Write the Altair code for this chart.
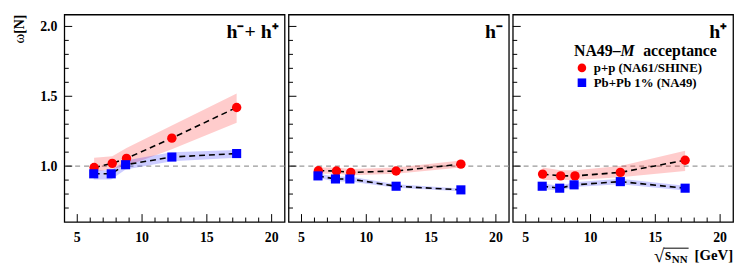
import altair as alt
import pandas as pd

# ---------------- data ----------------
energy_pp = [6.3, 7.7, 8.8, 12.3, 17.3]
energy_pb = [6.27, 7.62, 8.73, 12.3, 17.3]

# h- + h+
all_pp = [0.99, 1.02, 1.055, 1.20, 1.42]
all_pp_lo = [0.96, 0.98, 1.00, 1.12, 1.31]
all_pp_hi = [1.06, 1.07, 1.13, 1.29, 1.52]
all_pb = [0.945, 0.945, 1.01, 1.065, 1.09]
all_pb_lo = [0.905, 0.905, 0.975, 1.035, 1.06]
all_pb_hi = [0.97, 0.97, 1.04, 1.10, 1.115]

# h-
neg_pp = [0.967, 0.965, 0.955, 0.965, 1.014]
neg_pp_lo = [0.945, 0.945, 0.935, 0.945, 0.99]
neg_pp_hi = [0.99, 0.99, 0.98, 0.99, 1.04]
neg_pb = [0.93, 0.908, 0.908, 0.856, 0.83]
neg_pb_lo = [0.915, 0.89, 0.89, 0.845, 0.82]
neg_pb_hi = [0.945, 0.925, 0.925, 0.87, 0.84]

# h+
pos_pp = [0.943, 0.93, 0.93, 0.955, 1.042]
pos_pp_lo = [0.90, 0.90, 0.90, 0.92, 0.965]
pos_pp_hi = [0.99, 0.97, 0.97, 1.00, 1.11]
pos_pb = [0.856, 0.842, 0.866, 0.889, 0.842]
pos_pb_lo = [0.835, 0.825, 0.85, 0.87, 0.825]
pos_pb_hi = [0.875, 0.86, 0.885, 0.91, 0.86]

panel_labels = ["h\u207b+ h\u207a", "h\u207b", "h\u207a"]
legend_labels = ["p+p (NA61/SHINE)", "Pb+Pb 1% (NA49)"]
legend_title = ["NA49\u2013", "M", "acceptance"]

x_major = [5, 10, 15, 20]
x_major_labels = ["5", "10", "15", "20"]
x_minor = [6, 7, 8, 9, 11, 12, 13, 14, 16, 17, 18, 19]
y_major = [1.0, 1.5, 2.0]
y_major_labels = ["1.0", "1.5", "2.0"]
y_minor = [0.7, 0.8, 0.9, 1.1, 1.2, 1.3, 1.4, 1.6, 1.7, 1.8, 1.9]
ref_line = [1.0]

# ---------------- style ----------------
W, H = 223, 210
FONT = "Liberation Serif"
RED = "#ff0000"
BLUE = "#0000ff"
xs = alt.Scale(domain=[4, 21], nice=False, zero=False)
ys = alt.Scale(domain=[0.6, 2.085], nice=False, zero=False)
X = alt.X("x:Q", scale=xs, axis=None)


def Y(field):
    return alt.Y(field, type="quantitative", scale=ys, axis=None)


def txt(s, **kw):
    base = dict(font=FONT, fontWeight="bold", color="black", baseline="alphabetic")
    base.update(kw)
    return alt.Chart(pd.DataFrame({"t": [s]})).mark_text(**base)


def panel(pp, pp_lo, pp_hi, pb, pb_lo, pb_hi, label, first=False, last=False):
    df_pp = pd.DataFrame({"x": energy_pp, "y": pp, "lo": pp_lo, "hi": pp_hi})
    df_pb = pd.DataFrame({"x": energy_pb, "y": pb, "lo": pb_lo, "hi": pb_hi})

    layers = []
    # reference line at 1
    layers.append(alt.Chart(pd.DataFrame({"y": ref_line})).mark_rule(
        color="#999999", strokeDash=[5, 4], strokeWidth=1.2).encode(y=Y("y")))
    # bands
    for df, col in ((df_pp, RED), (df_pb, BLUE)):
        layers.append(alt.Chart(df).mark_area(color=col, opacity=0.2).encode(
            x=X, y=Y("lo"), y2="hi"))
    # dashed lines
    for df in (df_pp, df_pb):
        layers.append(alt.Chart(df).mark_line(
            color="black", strokeDash=[6, 4], strokeWidth=1.6).encode(x=X, y=Y("y")))
    # points
    layers.append(alt.Chart(df_pp).mark_point(
        shape="circle", filled=True, color=RED, opacity=1, size=90).encode(x=X, y=Y("y")))
    layers.append(alt.Chart(df_pb).mark_point(
        shape="square", filled=True, color=BLUE, opacity=1, size=85).encode(x=X, y=Y("y")))
    # inward ticks
    layers.append(alt.Chart(pd.DataFrame({"x": x_major})).mark_rule(
        color="black", strokeWidth=1).encode(x=X, y=alt.value(H), y2=alt.value(H - 8)))
    layers.append(alt.Chart(pd.DataFrame({"x": x_minor})).mark_rule(
        color="black", strokeWidth=1).encode(x=X, y=alt.value(H), y2=alt.value(H - 4.5)))
    layers.append(alt.Chart(pd.DataFrame({"y": y_major})).mark_rule(
        color="black", strokeWidth=1).encode(y=Y("y"), x=alt.value(0), x2=alt.value(8)))
    layers.append(alt.Chart(pd.DataFrame({"y": y_minor})).mark_rule(
        color="black", strokeWidth=1).encode(y=Y("y"), x=alt.value(0), x2=alt.value(4.5)))
    # x tick labels
    layers.append(alt.Chart(pd.DataFrame({"x": x_major, "t": x_major_labels})).mark_text(
        font=FONT, fontWeight="bold", fontSize=14, color="black", align="center",
        baseline="alphabetic").encode(x=X, y=alt.value(H + 20), text="t:N"))
    if first:
        layers.append(alt.Chart(pd.DataFrame({"y": y_major, "t": y_major_labels})).mark_text(
            font=FONT, fontWeight="bold", fontSize=14, color="black", align="right",
            baseline="middle", dy=1).encode(y=Y("y"), x=alt.value(-7), text="t:N"))
        # y title  omega[N], rotated
        layers.append(txt("[N]", fontSize=14, angle=270, align="right").encode(
            text="t:N", x=alt.value(-41), y=alt.value(0)))
        layers.append(txt("\u03c9", fontSize=15, fontWeight="normal", angle=270,
                          align="right").encode(
            text="t:N", x=alt.value(-41), y=alt.value(19.5)))
    # panel label
    layers.append(txt(label, fontSize=20, align="right").encode(
        text="t:N", x=alt.value(W - 6), y=alt.value(24)))

    if last:
        # legend title
        tpos = [62, 109, 132]
        tstyle = ["normal", "italic", "normal"]
        for s, px, st in zip(legend_title, tpos, tstyle):
            layers.append(txt(s, fontStyle=st, fontSize=16, align="left").encode(
                text="t:N", x=alt.value(px), y=alt.value(42)))
        # legend entries
        layers.append(alt.Chart(pd.DataFrame({"t": [legend_labels[0]]})).mark_point(
            shape="circle", filled=True, color=RED, opacity=1, size=75).encode(
            x=alt.value(70), y=alt.value(54)))
        layers.append(alt.Chart(pd.DataFrame({"t": [legend_labels[1]]})).mark_point(
            shape="square", filled=True, color=BLUE, opacity=1, size=75).encode(
            x=alt.value(70), y=alt.value(69)))
        for s, py in zip(legend_labels, [58, 73]):
            layers.append(txt(s, fontSize=13, align="left").encode(
                text="t:N", x=alt.value(82), y=alt.value(py)))
        # x-axis title: sqrt(s_NN) [GeV]
        layers.append(txt("\u221a", fontSize=19, fontWeight="normal", align="left").encode(
            text="t:N", x=alt.value(143), y=alt.value(251)))
        layers.append(alt.Chart(pd.DataFrame({"t": ["s"]})).mark_rule(
            color="black", strokeWidth=1).encode(
            x=alt.value(153), x2=alt.value(178), y=alt.value(236.5)))
        layers.append(txt("s", fontSize=16, align="left").encode(
            text="t:N", x=alt.value(154), y=alt.value(248)))
        layers.append(txt("NN", fontSize=11, align="left").encode(
            text="t:N", x=alt.value(161), y=alt.value(251.5)))
        layers.append(txt("[GeV]", fontSize=15, align="right").encode(
            text="t:N", x=alt.value(W), y=alt.value(248)))

    return alt.layer(*layers).properties(width=W, height=H)


p1 = panel(all_pp, all_pp_lo, all_pp_hi, all_pb, all_pb_lo, all_pb_hi,
           panel_labels[0], first=True)
p2 = panel(neg_pp, neg_pp_lo, neg_pp_hi, neg_pb, neg_pb_lo, neg_pb_hi, panel_labels[1])
p3 = panel(pos_pp, pos_pp_lo, pos_pp_hi, pos_pb, pos_pb_lo, pos_pb_hi,
           panel_labels[2], last=True)

chart = alt.hconcat(p1, p2, p3, spacing=0).properties(
    padding={"left": 3, "top": 4, "right": 4, "bottom": 4},
    background="white",
).configure_view(stroke="black", strokeWidth=1.3)

chart.save("out.html", embed_options={"renderer": "svg", "actions": False})
